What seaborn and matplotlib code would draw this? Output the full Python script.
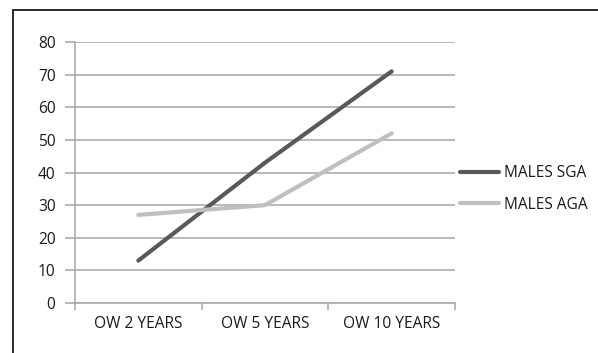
import matplotlib
matplotlib.use("Agg")
import matplotlib.pyplot as plt
from matplotlib.lines import Line2D
import seaborn as sns
import pandas as pd

categories = ["OW 2 YEARS", "OW 5 YEARS", "OW 10 YEARS"]
males_sga = [13, 43, 71]
males_aga = [27, 30, 52]
series_names = ["MALES SGA", "MALES AGA"]
y_ticks = [0, 10, 20, 30, 40, 50, 60, 70, 80]

sns.set_theme(style="white")
plt.rcParams["font.family"] = ["Open Sans", "DejaVu Sans"]

W, H = 598, 353
fig = plt.figure(figsize=(W / 100, H / 100), dpi=100)
fig.patch.set_facecolor("white")
ax = fig.add_axes([75 / W, 1 - 303 / H, (455 - 75) / W, (303 - 42) / H])

df = pd.DataFrame({
    "pos": list(range(len(categories))) * 2,
    "value": males_sga + males_aga,
    "series": [series_names[0]] * 3 + [series_names[1]] * 3,
})
palette = {series_names[0]: "#595959", series_names[1]: "#bfbfbf"}
sns.lineplot(data=df, x="pos", y="value", hue="series", palette=palette,
             linewidth=3.0, ax=ax, legend=False, sort=False)
for line in ax.lines:
    line.set_solid_capstyle("round")

ax.set_xlim(-0.5, len(categories) - 0.5)
ax.set_ylim(0, 80)
ax.set_yticks(y_ticks)
ax.set_yticklabels([str(t) for t in y_ticks])
ax.yaxis.grid(True, color="#a6a6a6", linewidth=1.1)
ax.xaxis.grid(False)
ax.set_axisbelow(True)

# category boundaries get tick marks; labels sit at category centres
ax.set_xticks([-0.5, 0.5, 1.5, 2.5])
ax.set_xticklabels([])
ax.set_xticks(range(len(categories)), minor=True)
ax.set_xticklabels(categories, minor=True)
ax.tick_params(axis="x", which="major", direction="out", length=5, width=1.1,
               color="#a6a6a6", bottom=True)
ax.tick_params(axis="x", which="minor", length=0, pad=9, labelsize=11.2,
               labelcolor="#1a1a1a")
ax.tick_params(axis="y", direction="out", length=7, width=1.1, color="#a6a6a6",
               left=True, pad=7, labelsize=11.2, labelcolor="#1a1a1a")
ax.set_xlabel("")
ax.set_ylabel("")

for side in ["top", "right"]:
    ax.spines[side].set_visible(False)
for side in ["left", "bottom"]:
    ax.spines[side].set_color("#a6a6a6")
    ax.spines[side].set_linewidth(1.1)

handles = [Line2D([], [], color=palette[n], linewidth=3.0, solid_capstyle="round")
           for n in series_names]
fig.legend(handles, series_names, loc="center left",
           bbox_to_anchor=(446 / W, 1 - 189 / H), frameon=False,
           handlelength=2.5, handletextpad=0.3, labelspacing=1.0,
           fontsize=11.2, labelcolor="#1a1a1a")

# outer chart frame (top and left edges)
fig.add_artist(Line2D([12.5 / W, 12.5 / W], [0, 1 - 9.5 / H], transform=fig.transFigure,
                      color="#1a1a1a", linewidth=1.3))
fig.add_artist(Line2D([12.5 / W, 1], [1 - 9.5 / H, 1 - 9.5 / H], transform=fig.transFigure,
                      color="#1a1a1a", linewidth=1.3))

fig.savefig("out.png", dpi=100, facecolor="white")
